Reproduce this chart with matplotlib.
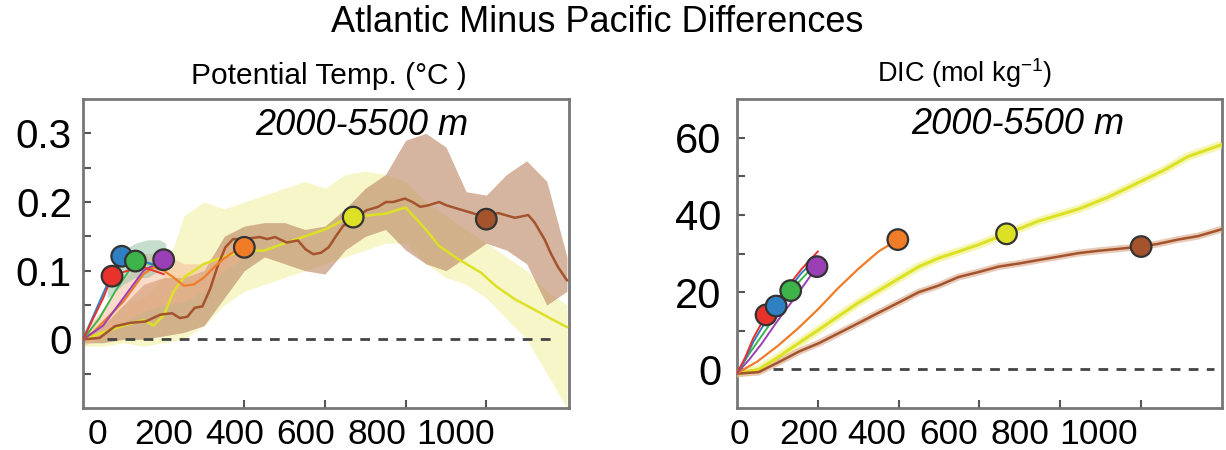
import matplotlib
matplotlib.use('Agg')
import matplotlib.pyplot as plt

plt.rcParams['font.family'] = ['Liberation Sans', 'DejaVu Sans']

# ---------------- data: potential temperature (left) ----------------
yrs_band = [0, 50, 100, 150, 200, 250, 300, 350, 400, 450, 500, 550, 600,
            650, 700, 750, 800, 850, 900, 950, 1000, 1050, 1100, 1150, 1200]
brown_hi = [0.005, 0.02, 0.05, 0.08, 0.09, 0.09, 0.10, 0.15, 0.165, 0.17, 0.17, 0.16, 0.165,
            0.19, 0.22, 0.24, 0.29, 0.30, 0.28, 0.215, 0.21, 0.24, 0.26, 0.23, 0.12]
brown_lo = [-0.005, -0.005, 0.0, 0.0, 0.005, 0.01, 0.02, 0.06, 0.10, 0.12, 0.11, 0.10, 0.095,
            0.13, 0.15, 0.16, 0.13, 0.11, 0.10, 0.12, 0.14, 0.13, 0.11, 0.05, 0.07]
yellow_hi = [0.005, 0.03, 0.05, 0.06, 0.09, 0.18, 0.20, 0.19, 0.20, 0.21, 0.22, 0.23, 0.22,
             0.24, 0.245, 0.24, 0.23, 0.20, 0.18, 0.16, 0.14, 0.12, 0.10, 0.07, 0.05]
yellow_lo = [-0.01, -0.01, -0.005, -0.01, -0.005, 0.0, 0.02, 0.05, 0.07, 0.08, 0.09, 0.10, 0.11,
             0.12, 0.13, 0.14, 0.14, 0.11, 0.09, 0.08, 0.06, 0.03, 0.0, -0.05, -0.1]

brown_x = [0, 41, 79, 117, 155, 192, 221, 240, 259, 277, 296, 315, 334, 353, 372, 400, 438,
           457, 476, 505, 533, 552, 571, 590, 609, 628, 646, 665, 684, 703, 732, 751, 769,
           798, 817, 836, 855, 883, 902, 930, 959, 987, 1006, 1029, 1053, 1071, 1104, 1120,
           1145, 1160, 1178, 1200]
brown_T = [0, 0.002, 0.019, 0.024, 0.026, 0.036, 0.038, 0.031, 0.033, 0.046, 0.048, 0.073,
           0.107, 0.134, 0.146, 0.146, 0.149, 0.146, 0.149, 0.141, 0.144, 0.131, 0.124, 0.126,
           0.134, 0.151, 0.166, 0.168, 0.180, 0.188, 0.193, 0.200, 0.200, 0.205, 0.200, 0.193,
           0.195, 0.200, 0.195, 0.190, 0.185, 0.180, 0.180, 0.184, 0.180, 0.177, 0.181, 0.170,
           0.145, 0.125, 0.105, 0.086]
yellow_x = [0, 50, 100, 150, 175, 200, 225, 250, 275, 300, 350, 400, 448, 500, 550, 600,
            650, 700, 750, 800, 850, 883, 930, 987, 1025, 1072, 1120, 1167, 1200]
yellow_T = [0, 0.01, 0.02, 0.028, 0.02, 0.035, 0.07, 0.09, 0.10, 0.11, 0.12, 0.13, 0.129,
            0.14, 0.15, 0.16, 0.175, 0.18, 0.183, 0.192, 0.16, 0.136, 0.117, 0.097, 0.077,
            0.058, 0.043, 0.028, 0.018]
orange_x = [0, 25, 50, 75, 100, 125, 150, 175, 200, 225, 250, 275, 300, 325, 350, 375, 400]
orange_T = [0, 0.01, 0.025, 0.04, 0.055, 0.075, 0.095, 0.105, 0.10, 0.09, 0.078, 0.08,
            0.09, 0.105, 0.118, 0.128, 0.134]
orange_band_x = [0, 50, 100, 150, 200, 250, 300, 350, 400]
orange_hi = [0.01, 0.045, 0.085, 0.125, 0.125, 0.11, 0.11, 0.135, 0.15]
orange_lo = [-0.01, 0.005, 0.025, 0.04, 0.05, 0.055, 0.07, 0.10, 0.12]
green_band_x = [60, 100, 130, 160, 190, 205]
green_hi = [0.08, 0.13, 0.14, 0.145, 0.145, 0.14]
green_lo = [0.06, 0.08, 0.09, 0.09, 0.10, 0.10]

red_x = [0, 25, 50, 72, 110, 150, 200]
red_T = [0, 0.03, 0.06, 0.092, 0.10, 0.105, 0.095]
blue_x = [0, 30, 60, 96, 140, 200]
blue_T = [0, 0.04, 0.08, 0.121, 0.115, 0.105]
green_x = [0, 40, 80, 130, 165, 200]
green_T = [0, 0.03, 0.07, 0.114, 0.11, 0.105]
purple_x = [0, 50, 100, 150, 200]
purple_T = [0, 0.02, 0.06, 0.10, 0.116]

mark_x_T = [72, 96, 130, 200, 400, 670, 1000]
mark_T = [0.092, 0.121, 0.114, 0.116, 0.134, 0.178, 0.175]

# ---------------- data: DIC (right) ----------------
red_cx = [0, 20, 40, 72, 100, 130, 160, 200]
red_C = [-1, 3, 8, 14.1, 18, 22, 26, 30.5]
blue_cx = [0, 20, 40, 60, 97, 130, 160, 200]
blue_C = [-1, 2.5, 7, 10.5, 16.4, 21, 25, 29]
green_cx = [0, 30, 60, 100, 133, 170, 200]
green_C = [-1, 4, 8.5, 14.5, 20.4, 24.5, 28]
purple_cx = [0, 30, 60, 100, 150, 198]
purple_C = [-1, 2.5, 6.5, 12.5, 19.5, 26.6]
orange_cx = [0, 50, 100, 150, 200, 250, 300, 350, 398]
orange_C = [-1, 2, 6, 10.5, 15.5, 21, 26, 30.5, 33.6]
yellow_cx = [0, 54, 104, 153, 203, 252, 301, 351, 400, 450, 499, 548, 598, 667, 746, 845,
             919, 988, 1057, 1116, 1200]
yellow_C = [-1.1, 0, 3.3, 6.8, 10.3, 13.8, 17.3, 20.4, 23.5, 26.6, 28.8, 30.5, 32.3, 35.1,
            38.4, 41.5, 44.6, 48.1, 51.6, 55.1, 58.2]
brown_cx = [0, 54, 104, 153, 203, 252, 301, 351, 400, 450, 499, 548, 598, 647, 697, 746,
            796, 845, 894, 944, 1000, 1042, 1091, 1141, 1200]
brown_C = [-1.1, -0.7, 1.9, 4.6, 6.8, 9.4, 12.0, 14.7, 17.3, 20.0, 21.7, 23.9, 25.2, 26.6,
           27.4, 28.3, 29.2, 30.1, 30.7, 31.2, 31.8, 32.5, 33.6, 34.5, 36.3]

mark_x_C = [72, 97, 133, 198, 398, 667, 1000]
mark_C = [14.1, 16.4, 20.4, 26.6, 33.6, 35.1, 31.8]

xtick_vals = [200, 400, 600, 800, 1000]
xtick_labels = ['0', '200', '400', '600', '800', '1000']

colors = ['#e8322b', '#2f80c3', '#3db34a', '#9a3fb6', '#f07c28', '#dde125', '#a4532c']

fig = plt.figure(figsize=(12.26, 4.5), dpi=100)
ax1 = fig.add_axes([0.0677, 0.0933, 0.3964, 0.6867])
ax2 = fig.add_axes([0.6011, 0.0933, 0.3956, 0.6867])

# left panel
ax1.fill_between(yrs_band, yellow_lo, yellow_hi, color='#f1f0a6', alpha=0.6, lw=0, zorder=1)
ax1.fill_between(yrs_band, brown_lo, brown_hi, color='#b98460', alpha=0.6, lw=0, zorder=2)
ax1.fill_between(orange_band_x, orange_lo, orange_hi, color='#f4b08a', alpha=0.45, lw=0, zorder=2)
ax1.fill_between(green_band_x, green_lo, green_hi, color='#8fbf9f', alpha=0.5, lw=0, zorder=2)
ax1.hlines(0, 60, 1170, colors='#444444', linestyles=(0, (3.5, 3)), lw=2, zorder=3)
ax1.plot(yellow_x, yellow_T, color=colors[5], lw=1.8, zorder=4)
ax1.plot(brown_x, brown_T, color=colors[6], lw=1.8, zorder=4)
ax1.plot(orange_x, orange_T, color=colors[4], lw=1.6, zorder=4)
ax1.plot(purple_x, purple_T, color=colors[3], lw=1.4, zorder=4)
ax1.plot(green_x, green_T, color=colors[2], lw=1.4, zorder=4)
ax1.plot(blue_x, blue_T, color=colors[1], lw=1.4, zorder=4)
ax1.plot(red_x, red_T, color=colors[0], lw=1.4, zorder=4)
ax1.scatter(mark_x_T, mark_T, s=220, c=colors, edgecolors='#333333', linewidths=1.6, zorder=5)
ax1.set_xlim(0, 1205)
ax1.set_ylim(-0.1, 0.35)
ax1.set_yticks([0, 0.1, 0.2, 0.3], ['0', '0.1', '0.2', '0.3'])
ax1.set_yticks([-0.05, 0.05, 0.15, 0.25], minor=True)
ax1.text(690, 0.312, '2000-5500 m', fontsize=26, style='italic', ha='center', va='center')

# right panel
ax2.plot(yellow_cx, yellow_C, color='#eef080', lw=6, alpha=0.6, zorder=3, solid_capstyle='butt')
ax2.plot(brown_cx, brown_C, color='#d9a88a', lw=5, alpha=0.6, zorder=3, solid_capstyle='butt')
ax2.hlines(0, 90, 1180, colors='#444444', linestyles=(0, (3.5, 3)), lw=2, zorder=3)
ax2.plot(yellow_cx, yellow_C, color=colors[5], lw=2.2, zorder=4)
ax2.plot(brown_cx, brown_C, color=colors[6], lw=1.8, zorder=4)
ax2.plot(orange_cx, orange_C, color=colors[4], lw=1.6, zorder=4)
ax2.plot(purple_cx, purple_C, color=colors[3], lw=1.4, zorder=4)
ax2.plot(green_cx, green_C, color=colors[2], lw=1.4, zorder=4)
ax2.plot(blue_cx, blue_C, color=colors[1], lw=1.4, zorder=4)
ax2.plot(red_cx, red_C, color=colors[0], lw=1.4, zorder=4)
ax2.scatter(mark_x_C, mark_C, s=220, c=colors, edgecolors='#333333', linewidths=1.6, zorder=5)
ax2.set_xlim(0, 1200)
ax2.set_ylim(-10, 70)
ax2.set_yticks([0, 20, 40, 60], ['0', '20', '40', '60'])
ax2.set_yticks([10, 30, 50], minor=True)
ax2.text(694, 63.5, '2000-5500 m', fontsize=26, style='italic', ha='center', va='center')

# x tick labels sit where they were pasted in the original figure
label_pos = {ax1: [35, 200, 375, 551, 728, 923], ax2: [7, 178, 346, 523, 701, 894]}
for ax in (ax1, ax2):
    for sp in ax.spines.values():
        sp.set_color('#777777')
        sp.set_linewidth(2)
    ax.set_xticks(label_pos[ax], xtick_labels)
    ax.set_xticks(xtick_vals, minor=True)
    ax.tick_params(axis='x', which='major', length=0, labelsize=25.5, pad=7)
    ax.tick_params(axis='x', which='minor', direction='in', length=6, width=1.5, color='#555555')
    ax.tick_params(axis='y', which='both', direction='in', length=6, width=1.5, color='#555555')

ax1.tick_params(axis='y', which='major', labelsize=29, pad=8)
ax2.tick_params(axis='y', which='major', labelsize=30, pad=11)

fig.text(0.487, 0.951, 'Atlantic Minus Pacific Differences', fontsize=26, ha='center', va='center')
fig.text(0.268, 0.831, 'Potential Temp. (°C )', fontsize=21.5, ha='center', va='center')
fig.text(0.787, 0.838, 'DIC (mol kg$^{\\mathregular{-1}}$)', fontsize=19.5, ha='center', va='center')

fig.savefig('out.png', dpi=100)
